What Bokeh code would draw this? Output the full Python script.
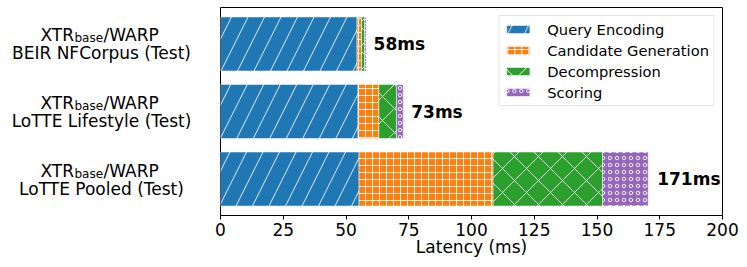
from bokeh.plotting import figure
from bokeh.layouts import row
from bokeh.models import ColumnDataSource, LabelSet, Range1d, FixedTicker, Legend
from bokeh.core.properties import value
from bokeh.embed import file_html
from bokeh.resources import INLINE

# ---- data ----
datasets = ["BEIR NFCorpus (Test)", "LoTTE Lifestyle (Test)", "LoTTE Pooled (Test)"]
positions = [2, 1, 0]
query_encoding = [54.4, 54.8, 55.2]
candidate_generation = [1.8, 8.3, 53.4]
decompression = [1.2, 7.0, 43.6]
scoring = [0.6, 2.7, 18.2]
totals = [58, 73, 171]
stage_names = ["Query Encoding", "Candidate Generation", "Decompression", "Scoring"]
stage_colors = ["#1f77b4", "#ff7f0e", "#2ca02c", "#9467bd"]
stage_hatches = ["/", "+", "x", "o"]
stage_hatch_scales = [33, 7, 24, 7]
x_ticks = [0, 25, 50, 75, 100, 125, 150, 175, 200]

FONT = "DejaVu Sans"
H = 267
TOP = 7
BOTTOM = 52
yr = Range1d(-0.54, 2.54)


def style_xaxis(fig, visible=True):
    xa = fig.xaxis[0]
    xa.ticker = FixedTicker(ticks=x_ticks)
    xa.minor_tick_line_color = None
    xa.major_tick_out = 4
    xa.major_tick_in = 0
    xa.major_label_standoff = 3
    xa.major_label_text_font = FONT
    xa.major_label_text_font_size = "17px"
    xa.major_label_text_color = "black"
    xa.axis_label = "Latency (ms)"
    xa.axis_label_text_font = FONT
    xa.axis_label_text_font_size = "17px"
    xa.axis_label_text_font_style = "normal"
    xa.axis_label_text_color = "black"
    xa.axis_label_standoff = -2
    xa.axis_line_color = "black"
    if not visible:
        xa.major_label_text_alpha = 0
        xa.axis_label_text_alpha = 0
        xa.axis_line_alpha = 0
        xa.major_tick_line_alpha = 0


# ---- left label panel ----
lab = figure(width=214, height=H, output_backend="svg", toolbar_location=None,
             x_range=Range1d(0, 214), y_range=yr,
             min_border_left=0, min_border_right=0, min_border_top=TOP, min_border_bottom=BOTTOM)
lab.yaxis.visible = False
lab.grid.visible = False
lab.outline_line_color = None
style_xaxis(lab, visible=False)

lsrc = ColumnDataSource(dict(y=positions, name=datasets,
                             xtr=["XTR"] * 3, base=["base"] * 3, warp=["/WARP"] * 3))
common = dict(y="y", source=lsrc, text_font=value(FONT), text_color="black",
              text_baseline="alphabetic")
lab.text(x=40, text="xtr", y_offset=-8.5, text_font_size="17px", text_align="left", **common)
lab.text(x=74, text="base", y_offset=-5.5, text_font_size="12px", text_align="left", **common)
lab.text(x=103, text="warp", y_offset=-8.5, text_font_size="17px", text_align="left", **common)
lab.text(x=101, text="name", y_offset=9.5, text_font_size="17px", text_align="center", **common)

# ---- main chart ----
p = figure(width=525, height=H, output_backend="svg", toolbar_location=None,
           x_range=Range1d(0, 200), y_range=yr,
           min_border_left=6, min_border_right=17, min_border_top=TOP, min_border_bottom=BOTTOM)

stages = [query_encoding, candidate_generation, decompression, scoring]
lefts = [0.0, 0.0, 0.0]
renderers = []
for name, vals, col, hatch, hs in zip(stage_names, stages, stage_colors, stage_hatches, stage_hatch_scales):
    rights = [l + v for l, v in zip(lefts, vals)]
    src = ColumnDataSource(dict(y=positions, left=lefts, right=rights))
    r = p.hbar(y="y", left="left", right="right", height=0.8, source=src,
               fill_color=col, line_color="white", line_alpha=0.5, line_width=1,
               hatch_pattern=hatch, hatch_color="white", hatch_alpha=0.85,
               hatch_scale=hs, hatch_weight=1)
    renderers.append((name, r))
    lefts = rights

legend = Legend(items=[(n, [r]) for n, r in renderers], location="top_right")
legend.label_text_font = FONT
legend.label_text_font_size = "14.7px"
legend.label_text_color = "black"
legend.glyph_width = 29
legend.glyph_height = 10
legend.label_height = 18
legend.spacing = 3
legend.padding = 4
legend.margin = 8
legend.label_standoff = 15
legend.border_line_color = "#cccccc"
legend.border_line_width = 1
legend.background_fill_alpha = 0.8
p.add_layout(legend)

tsrc = ColumnDataSource(dict(x=totals, y=positions, text=[f"{t}ms" for t in totals]))
p.add_layout(LabelSet(x="x", y="y", text="text", source=tsrc, x_offset=7.5,
                      text_baseline="middle", text_align="left",
                      text_font=value(FONT), text_font_size="17px", text_font_style="bold",
                      text_color="black"))

p.yaxis.visible = False
p.grid.visible = False
p.outline_line_color = "black"
p.outline_line_width = 1
style_xaxis(p)

layout = row(lab, p)
open("out.html", "w").write(file_html(layout, INLINE))
